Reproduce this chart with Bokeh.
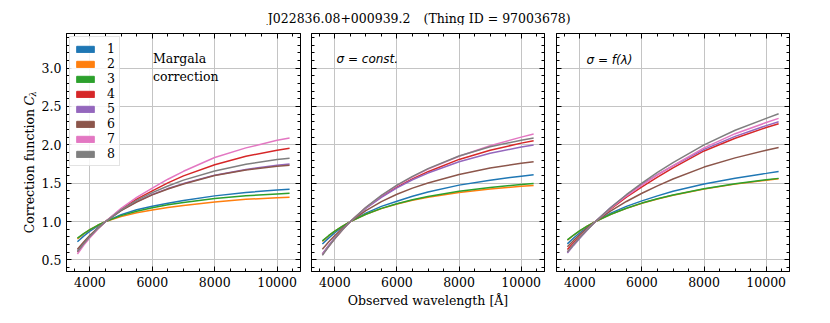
from math import pi
import numpy as np
from bokeh.plotting import figure
from bokeh.models import (LinearAxis, FixedTicker, PrintfTickFormatter, CustomJSTickFormatter,
                          Label, Legend, LegendItem, Range1d)
from bokeh.layouts import row, column
from bokeh.embed import file_html
from bokeh.resources import INLINE

# ---------------- data ----------------
wavelength = [3600, 3800, 4000, 4250, 4500, 5000, 5500, 6000, 6500, 7000, 8000, 9000, 10000, 10400]
series_labels = ["1", "2", "3", "4", "5", "6", "7", "8"]
colors = ["#1f77b4", "#ff7f0e", "#2ca02c", "#d62728", "#9467bd", "#8c564b", "#e377c2", "#7f7f7f"]

# Panel 1: Margala correction
margala_1 = [0.738, 0.811, 0.875, 0.942, 1.0, 1.09, 1.155, 1.20, 1.24, 1.275, 1.335, 1.38, 1.41, 1.42]
margala_2 = [0.775, 0.84, 0.895, 0.952, 1.0, 1.065, 1.115, 1.15, 1.185, 1.21, 1.255, 1.29, 1.31, 1.318]
margala_3 = [0.785, 0.844, 0.896, 0.952, 1.0, 1.078, 1.135, 1.18, 1.218, 1.25, 1.30, 1.336, 1.361, 1.37]
margala_4 = [0.604, 0.707, 0.801, 0.906, 1.0, 1.162, 1.292, 1.40, 1.505, 1.595, 1.74, 1.85, 1.93, 1.955]
margala_5 = [0.62, 0.722, 0.813, 0.913, 1.0, 1.145, 1.26, 1.353, 1.43, 1.495, 1.605, 1.68, 1.735, 1.75]
margala_6 = [0.64, 0.735, 0.822, 0.917, 1.0, 1.142, 1.255, 1.348, 1.425, 1.49, 1.60, 1.672, 1.722, 1.735]
margala_7 = [0.578, 0.69, 0.789, 0.90, 1.0, 1.172, 1.315, 1.435, 1.552, 1.655, 1.835, 1.96, 2.06, 2.09]
margala_8 = [0.607, 0.712, 0.805, 0.909, 1.0, 1.153, 1.276, 1.377, 1.463, 1.54, 1.66, 1.748, 1.808, 1.825]

# Panel 2: sigma = const.
const_1 = [0.708, 0.785, 0.855, 0.932, 1.0, 1.11, 1.198, 1.265, 1.33, 1.385, 1.475, 1.54, 1.592, 1.609]
const_2 = [0.743, 0.813, 0.875, 0.942, 1.0, 1.095, 1.169, 1.229, 1.277, 1.317, 1.379, 1.425, 1.459, 1.471]
const_3 = [0.748, 0.816, 0.876, 0.942, 1.0, 1.096, 1.172, 1.233, 1.284, 1.327, 1.394, 1.444, 1.483, 1.496]
const_4 = [0.575, 0.68, 0.78, 0.896, 1.0, 1.178, 1.326, 1.45, 1.556, 1.65, 1.81, 1.93, 2.022, 2.052]
const_5 = [0.578, 0.69, 0.79, 0.902, 1.0, 1.172, 1.315, 1.44, 1.545, 1.632, 1.78, 1.89, 1.972, 1.997]
const_6 = [0.64, 0.733, 0.818, 0.914, 1.0, 1.144, 1.261, 1.356, 1.436, 1.503, 1.614, 1.697, 1.76, 1.78]
const_7 = [0.566, 0.677, 0.779, 0.895, 1.0, 1.183, 1.337, 1.469, 1.583, 1.683, 1.852, 1.988, 2.10, 2.14]
const_8 = [0.56, 0.672, 0.776, 0.894, 1.0, 1.186, 1.342, 1.475, 1.59, 1.69, 1.855, 1.975, 2.06, 2.089]

# Panel 3: sigma = f(lambda)
flam_1 = [0.71, 0.787, 0.855, 0.931, 1.0, 1.11, 1.198, 1.27, 1.335, 1.395, 1.49, 1.565, 1.628, 1.654]
flam_2 = [0.758, 0.822, 0.88, 0.944, 1.0, 1.094, 1.172, 1.238, 1.295, 1.343, 1.424, 1.488, 1.54, 1.558]
flam_3 = [0.762, 0.825, 0.882, 0.945, 1.0, 1.095, 1.174, 1.241, 1.298, 1.347, 1.428, 1.493, 1.545, 1.563]
flam_4 = [0.635, 0.725, 0.81, 0.908, 1.0, 1.167, 1.318, 1.452, 1.58, 1.70, 1.92, 2.085, 2.225, 2.275]
flam_5 = [0.59, 0.69, 0.784, 0.895, 1.0, 1.185, 1.345, 1.485, 1.612, 1.725, 1.94, 2.11, 2.25, 2.30]
flam_6 = [0.672, 0.755, 0.832, 0.919, 1.0, 1.14, 1.262, 1.369, 1.466, 1.555, 1.71, 1.83, 1.93, 1.966]
flam_7 = [0.605, 0.705, 0.796, 0.902, 1.0, 1.176, 1.333, 1.475, 1.61, 1.73, 1.96, 2.145, 2.29, 2.345]
flam_8 = [0.604, 0.701, 0.792, 0.899, 1.0, 1.184, 1.35, 1.50, 1.64, 1.768, 2.0, 2.19, 2.345, 2.405]

x_major = [4000, 6000, 8000, 10000]
y_major = [0.5, 1.0, 1.5, 2.0, 2.5, 3.0]

title_object = "J022836.08+000939.2"
title_thing = "(Thing ID = 97003678)"
xlabel_text = "Observed wavelength [Å]"

# ---------------- styling ----------------
SERIF = "DejaVu Serif"
FS = "12.5px"
x_minor = [float(v) for v in np.arange(3500, 10501, 500)]
y_minor = [round(float(v), 2) for v in np.arange(0.4, 3.45, 0.1)]
FRAME_H = 238
TOP_B = 8
BOT_B = 45
PANEL_H = TOP_B + FRAME_H + BOT_B
TITLE_H = 25
YLAB_W = 37
P1_LEFT = 29


def style_axis(ax, labels=True):
    ax.axis_line_color = "black"
    ax.axis_line_width = 1
    ax.major_tick_in = 5
    ax.major_tick_out = 0
    ax.minor_tick_in = 3
    ax.minor_tick_out = 0
    ax.major_tick_line_color = "black"
    ax.minor_tick_line_color = "black"
    ax.major_label_text_font = SERIF
    ax.major_label_text_font_size = FS
    ax.major_label_text_color = "black"
    ax.major_label_standoff = 5
    if not labels:
        ax.formatter = CustomJSTickFormatter(code="return ''")
        ax.major_label_text_font_size = "0px"
        ax.major_label_standoff = 0


def make_panel(curves, fw, left, right, ylabels):
    p = figure(frame_width=fw, frame_height=FRAME_H,
               min_border_left=left, min_border_right=right,
               min_border_top=TOP_B, min_border_bottom=BOT_B,
               x_range=Range1d(3250, 10750), y_range=Range1d(0.35, 3.45),
               output_backend="svg", toolbar_location=None, tools="")
    p.outline_line_color = "black"
    p.outline_line_width = 1
    xt = FixedTicker(ticks=x_major, minor_ticks=x_minor)
    yt = FixedTicker(ticks=y_major, minor_ticks=y_minor)
    bottom = p.below[0]
    left_ax = p.left[0]
    bottom.ticker = xt
    left_ax.ticker = yt
    bottom.formatter = PrintfTickFormatter(format="%d")
    left_ax.formatter = PrintfTickFormatter(format="%.1f")
    style_axis(bottom, True)
    style_axis(left_ax, ylabels)
    top = LinearAxis(ticker=xt)
    style_axis(top, False)
    p.add_layout(top, "above")
    rax = LinearAxis(ticker=yt)
    style_axis(rax, False)
    p.add_layout(rax, "right")
    p.xgrid.ticker = xt
    p.ygrid.ticker = yt
    p.grid.grid_line_color = "#c4c4c4"
    p.grid.grid_line_width = 1
    for ys, c in zip(curves, colors):
        p.line(wavelength, ys, line_color=c, line_width=1.5)
    return p, bottom


def text_canvas(w, h):
    f = figure(frame_width=w, frame_height=h, min_border=0,
               x_axis_type=None, y_axis_type=None,
               output_backend="svg", toolbar_location=None, tools="")
    f.outline_line_color = None
    f.grid.visible = False
    return f


p1, b1 = make_panel([margala_1, margala_2, margala_3, margala_4, margala_5, margala_6, margala_7, margala_8],
                    234, P1_LEFT, 5, True)
p2, b2 = make_panel([const_1, const_2, const_3, const_4, const_5, const_6, const_7, const_8],
                    233, 6, 6, False)
p3, b3 = make_panel([flam_1, flam_2, flam_3, flam_4, flam_5, flam_6, flam_7, flam_8],
                    233, 6, 10, False)

# legend with patch handles (glyphs with NaN positions, only shown in the legend)
items = []
for lab, c in zip(series_labels, colors):
    r = p1.quad(left=[np.nan], right=[np.nan], top=[np.nan], bottom=[np.nan],
                fill_color=c, line_color=c)
    items.append(LegendItem(label=lab, renderers=[r]))
legend = Legend(items=items, location="top_left", margin=3, padding=4, spacing=0,
                glyph_width=22, glyph_height=8, label_standoff=11, label_width=8, label_height=15,
                label_text_font=SERIF, label_text_font_size=FS, label_text_color="black",
                border_line_color="#c8c8c8", border_line_width=1,
                background_fill_color="white", background_fill_alpha=0.85)
p1.add_layout(legend)

# panel annotations
p1.add_layout(Label(x=86.5, y=220.5, x_units="screen", y_units="screen",
                    text="Margala\ncorrection", text_align="left", text_baseline="top",
                    text_font=SERIF, text_font_size=FS, text_color="black"))
p2.add_layout(Label(x=25, y=212.7, x_units="screen", y_units="screen",
                    text="σ = const.", text_align="left", text_baseline="alphabetic",
                    text_font="DejaVu Sans", text_font_style="italic", text_font_size="12px",
                    text_color="black"))
p3.add_layout(Label(x=30, y=211.7, x_units="screen", y_units="screen",
                    text="σ = f(λ)", text_align="left", text_baseline="alphabetic",
                    text_font="DejaVu Sans", text_font_style="italic", text_font_size="12px",
                    text_color="black"))

# x-axis label under the middle panel
b2.axis_label = xlabel_text
b2.axis_label_text_font = SERIF
b2.axis_label_text_font_size = FS
b2.axis_label_text_font_style = "normal"
b2.axis_label_text_color = "black"
b2.axis_label_standoff = 3

# y-axis label (with subscript) on its own narrow canvas
Y0 = PANEL_H + TITLE_H  # page y of the canvas bottom
ylab = text_canvas(YLAB_W, PANEL_H)
ylab.add_layout(Label(x=28.5, y=Y0 - 100.5, x_units="screen", y_units="screen",
                      angle=pi / 2, text="Correction function", text_align="right",
                      text_baseline="middle", text_font=SERIF, text_font_size=FS,
                      text_color="black"))
ylab.add_layout(Label(x=28.5, y=Y0 - 97, x_units="screen", y_units="screen",
                      angle=pi / 2, text="C", text_align="left", text_baseline="middle",
                      text_font_style="italic", text_font=SERIF, text_font_size=FS,
                      text_color="black"))
ylab.add_layout(Label(x=32, y=Y0 - 88, x_units="screen", y_units="screen",
                      angle=pi / 2, text="λ", text_align="left", text_baseline="middle",
                      text_font_style="italic", text_font=SERIF, text_font_size="8.5px",
                      text_color="black"))

# title on its own canvas
total_w = YLAB_W + (P1_LEFT + 234 + 5) + (6 + 233 + 6) + (6 + 233 + 10)
tfig = text_canvas(total_w, TITLE_H)
tfig.add_layout(Label(x=410, y=TITLE_H - 18, x_units="screen", y_units="screen",
                      text=title_object, text_align="right", text_baseline="middle",
                      text_font=SERIF, text_font_size=FS, text_color="black"))
tfig.add_layout(Label(x=423, y=TITLE_H - 18, x_units="screen", y_units="screen",
                      text=title_thing, text_align="left", text_baseline="middle",
                      text_font=SERIF, text_font_size=FS, text_color="black"))

layout = column(tfig, row(ylab, p1, p2, p3))
open("out.html", "w").write(file_html(layout, INLINE))
